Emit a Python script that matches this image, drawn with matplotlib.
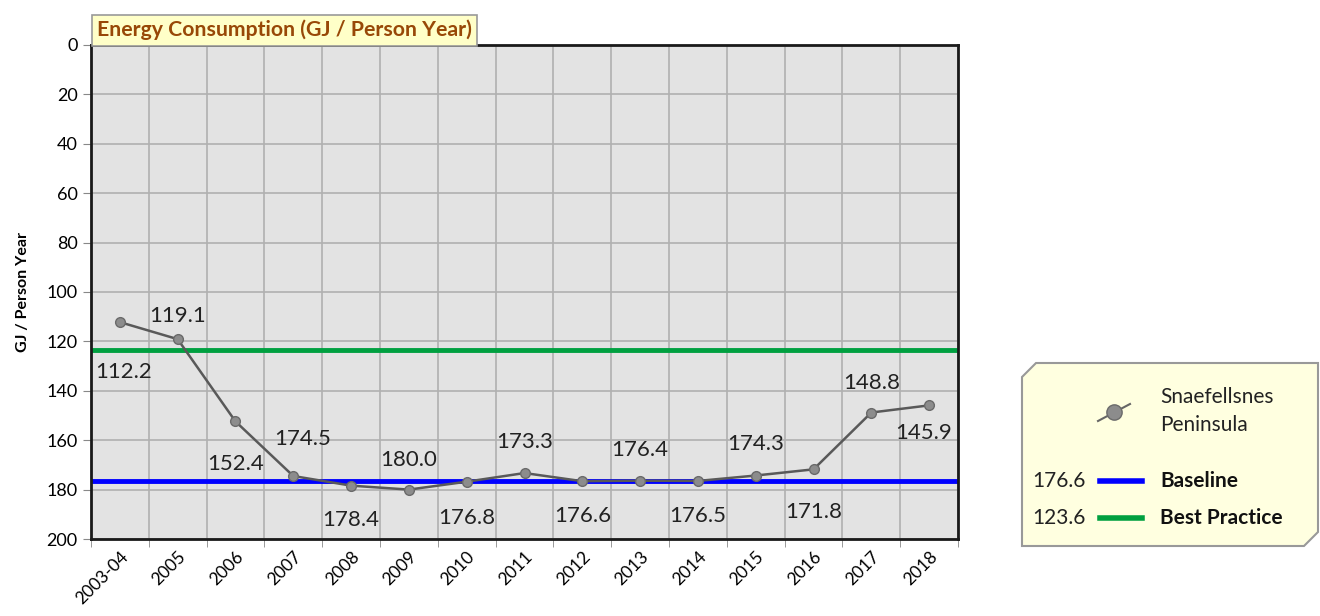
import matplotlib.pyplot as plt
import numpy as np
from matplotlib.patches import Polygon
from matplotlib.lines import Line2D

plt.rcParams['font.family'] = ['Lato', 'DejaVu Sans']

# data
years = ['2003-04', '2005', '2006', '2007', '2008', '2009', '2010', '2011',
         '2012', '2013', '2014', '2015', '2016', '2017', '2018']
energy = [112.2, 119.1, 152.4, 174.5, 178.4, 180.0, 176.8, 173.3,
          176.6, 176.4, 176.5, 174.3, 171.8, 148.8, 145.9]
baseline = 176.6
best_practice = 123.6
series_name = 'Snaefellsnes\nPeninsula'

# label offsets in points (dx, dy), positive dy = up on screen
label_offsets = [(3, -36), (0, 17), (0, -31), (7, 27), (0, -25), (0, 21), (0, -26), (0, 22),
                 (0, -25), (0, 22), (0, -25), (0, 23), (0, -31), (0, 21), (-4, -20)]

fig = plt.figure(figsize=(13.2, 6.16), dpi=100)
ax = fig.add_axes([0.0689, 0.125, 0.6569, 0.802])
ax.set_facecolor('#e3e3e3')

x = np.arange(len(years))
ax.axhline(best_practice, color='#00a040', lw=3.5, zorder=2)
ax.axhline(baseline, color='#0000ff', lw=3.5, zorder=2)
ax.plot(x, energy, color='#595959', lw=1.8, marker='o', ms=7,
        mfc='#8c8c8c', mec='#6a6a6a', mew=1, zorder=3)

for xi, v, (dx, dy) in zip(x, energy, label_offsets):
    ax.annotate(f'{v:.1f}', (xi, v), xytext=(dx, dy), textcoords='offset points',
                ha='center', va='center', fontsize=16, color='#222222', zorder=4)

ax.set_xlim(-0.5, len(years) - 0.5)
ax.set_ylim(200, 0)
ax.set_yticks(np.arange(0, 201, 20))
ax.set_xticks(x)
ax.set_xticklabels(years, rotation=45, ha='right', va='top', rotation_mode='anchor', fontsize=12.5)
ax.set_xticks(np.arange(-0.5, len(years)), minor=True)
ax.tick_params(axis='x', which='major', length=0, pad=7)
ax.tick_params(axis='x', which='minor', length=6, color='#888888')
ax.tick_params(axis='y', length=6, color='#888888', labelsize=13)

ax.grid(axis='y', which='major', color='#b0b0b0', lw=1.2)
ax.grid(axis='x', which='minor', color='#b0b0b0', lw=1.2)
ax.set_axisbelow(True)
for s in ['top', 'right', 'left', 'bottom']:
    ax.spines[s].set_linewidth(2)
    ax.spines[s].set_color('#1a1a1a')

ax.set_ylabel('GJ / Person Year', fontsize=11.5, fontweight='bold', labelpad=12)

# title box
fig.text(0.0735, 0.951, 'Energy Consumption (GJ / Person Year)', fontsize=15.3, fontweight='bold',
         color='#984807', ha='left', va='center',
         bbox=dict(boxstyle='square,pad=0.25', fc='#ffffc8', ec='#999999', lw=1.2))

# legend box with chamfered corners
W, H = 1320, 616
def fx(px): return px / W
def fy(py): return 1 - py / H
pts = [(1036, 363), (1318, 363), (1318, 532), (1304, 546), (1022, 546), (1022, 377)]
poly = Polygon([(fx(a), fy(b)) for a, b in pts], closed=True, transform=fig.transFigure,
               fc='#ffffe0', ec='#999999', lw=1.5)
fig.add_artist(poly)

leg_marker = Line2D([fx(1098), fx(1130)], [fy(421), fy(404)], transform=fig.transFigure,
                    color='#666666', lw=1.5)
fig.add_artist(leg_marker)
leg_dot = Line2D([fx(1114)], [fy(412)], transform=fig.transFigure, marker='o', ms=11,
                 mfc='#8c8c8c', mec='#6a6a6a', mew=1)
fig.add_artist(leg_dot)
fig.text(fx(1160), fy(411), series_name, fontsize=15, ha='left', va='center',
         color='#222222', linespacing=1.45)

for yy, val, col, name in [(481, baseline, '#0000ff', 'Baseline'),
                           (518, best_practice, '#00a040', 'Best Practice')]:
    fig.text(fx(1032), fy(yy), f'{val:.1f}', fontsize=15, ha='left', va='center', color='#222222')
    fig.add_artist(Line2D([fx(1100), fx(1142)], [fy(yy), fy(yy)], transform=fig.transFigure,
                          color=col, lw=4))
    fig.text(fx(1160), fy(yy), name, fontsize=15, fontweight='bold', ha='left', va='center',
             color='#111111')

fig.savefig('out.png', dpi=100)
